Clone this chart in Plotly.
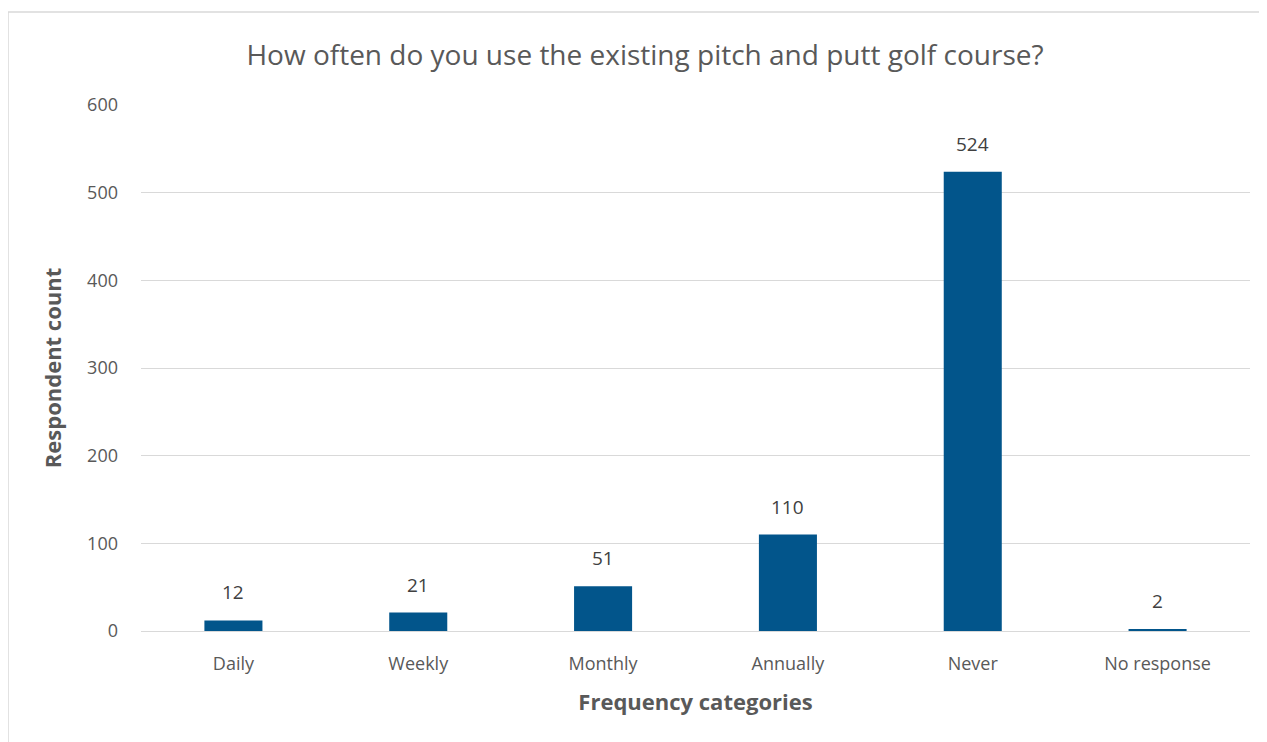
import plotly.graph_objects as go

categories = ["Daily", "Weekly", "Monthly", "Annually", "Never", "No response"]
counts = [12, 21, 51, 110, 524, 2]
y_ticks = [0, 100, 200, 300, 400, 500, 600]

FONT = "Open Sans"
GRAY = "#595959"

fig = go.Figure()
fig.add_trace(go.Bar(
    x=categories, y=counts,
    marker=dict(color="#02558B", line=dict(width=0)),
    hoverinfo="x+y",
))

for c, v in zip(categories, counts):
    fig.add_annotation(x=c, y=v, text=str(v), showarrow=False,
                       xanchor="center", yanchor="bottom", yshift=13,
                       font=dict(family=FONT, size=19, color="#404040"))

fig.update_layout(
    width=1267, height=742,
    margin=dict(l=133, r=25, t=97, b=119),
    paper_bgcolor="white", plot_bgcolor="white",
    bargap=0.686,
    showlegend=False,
    title=dict(text="How often do you use the existing pitch and putt golf course?",
               x=637/1267, xanchor="center", y=1 - 47/742, yanchor="middle",
               font=dict(family=FONT, size=28, color=GRAY)),
    xaxis=dict(
        title=dict(text="<b>Frequency categories</b>", font=dict(family=FONT, size=22, color=GRAY), standoff=21),
        tickfont=dict(family=FONT, size=18, color=GRAY),
        showgrid=False, showline=True, linecolor="#D9D9D9", linewidth=1,
        ticks="", ticklabelstandoff=16,
    ),
    yaxis=dict(
        title=dict(text="<b>Respondent count</b>", font=dict(family=FONT, size=22, color=GRAY), standoff=19),
        tickfont=dict(family=FONT, size=18, color=GRAY),
        range=[0, 600], tickvals=y_ticks,
        showgrid=True, gridcolor="#D9D9D9", gridwidth=1,
        zeroline=False, ticks="", ticklabelstandoff=22,
    ),
    shapes=[dict(type="rect", xref="paper", yref="paper",
                 x0=-133/1109, x1=1.12, y0=-0.3, y1=1 + 93/526,
                 line=dict(color="#D9D9D9", width=1.5), fillcolor="rgba(0,0,0,0)", layer="below")],
)

fig.write_html("out.html")
